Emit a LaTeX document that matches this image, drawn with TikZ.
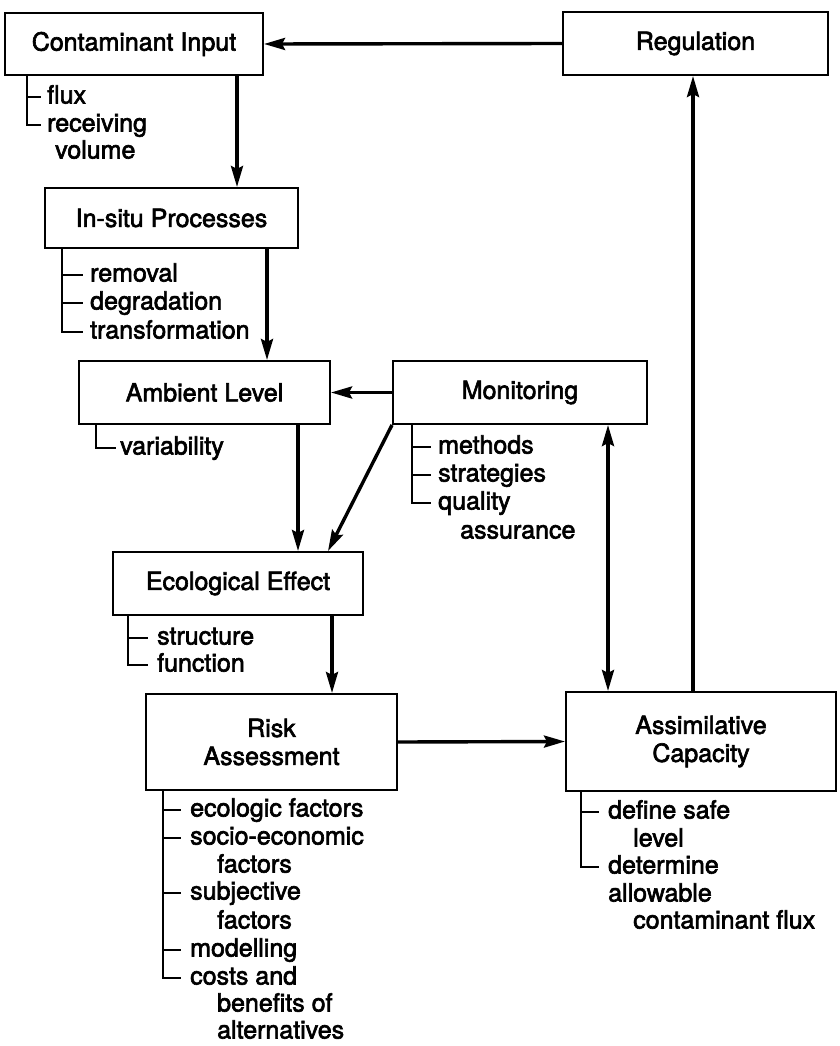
\documentclass[tikz,border=0pt]{standalone}
\usepackage{fontspec}
\newfontfamily\labelfont[FakeBold=2.5]{TeX Gyre Heros}
\usetikzlibrary{arrows.meta}
\begin{document}
\begin{tikzpicture}[x=1pt,y=-1pt,
  every node/.style={font=\labelfont\fontsize{25}{28}\selectfont},
  box/.style={draw,line width=2pt,rectangle,align=center,inner sep=0pt},
  arr/.style={line width=3.4pt,-{Stealth[length=21pt,width=12pt,inset=3pt]}},
  darr/.style={line width=3.4pt,{Stealth[length=21pt,width=12pt,inset=3pt]}-{Stealth[length=21pt,width=12pt,inset=3pt]}},
  item/.style={anchor=west,inner sep=0pt,text height=18pt,text depth=5pt},
  brk/.style={line width=2.4pt}]
\useasboundingbox (0,0) rectangle (839,1046);

% boxes
\node[box,minimum width=258pt,minimum height=62pt] (cin) at (134,44) {Contaminant Input};
\node[box,minimum width=265pt,minimum height=63pt] (reg) at (695.5,43.5) {Regulation};
\node[box,minimum width=253pt,minimum height=60pt] (ins) at (171.5,218) {In-situ Processes};
\node[box,minimum width=251pt,minimum height=63pt] (amb) at (204.5,392.5) {Ambient Level};
\node[box,minimum width=254pt,minimum height=63pt] (mon) at (520,392.5) {Monitoring};
\node[box,minimum width=250pt,minimum height=63pt] (eco) at (238,583.5) {Ecological Effect};
\node[box,minimum width=251pt,minimum height=96pt] (risk) at (271.5,742) {Risk\\Assessment};
\node[box,minimum width=270pt,minimum height=99pt] (asm) at (701,741.5) {Assimilative\\Capacity};

% connectors
\draw[arr] (reg.west) -- (cin.east);
\draw[arr] ([xshift=103pt]cin.south) -- ([xshift=65.5pt]ins.north);
\draw[arr] ([xshift=95.5pt]ins.south) -- ([xshift=62.5pt]amb.north);
\draw[arr] (mon.west) -- (amb.east);
\draw[arr] ([xshift=93.5pt]amb.south) -- ([xshift=60pt]eco.north);
\draw[arr] (mon.south west) -- ([xshift=90pt]eco.north);
\draw[arr] ([xshift=94pt]eco.south) -- ([xshift=60.5pt]risk.north);
\draw[arr] (risk.east) -- (asm.west);
\draw[darr] ([xshift=88pt]mon.south) -- ([xshift=-93pt]asm.north);
\draw[arr] ([xshift=-8pt]asm.north) -- ([xshift=-2.5pt]reg.south);

% Contaminant Input items
\node[item] (cin1) at (47,97) {flux};
\node[item] (cin2) at (47,125) {receiving};
\node[item] (cin2b) at (55,152) {volume};
\coordinate (cinB) at ([xshift=23pt]cin.south west);
\draw[brk] (cinB) |- ([xshift=-6pt]cin2.west);
\draw[brk] (cin1.west -| cinB) -- ([xshift=-6pt]cin1.west);

% In-situ Processes items
\node[item] (ins1) at (90,275) {removal};
\node[item] (ins2) at (90,303) {degradation};
\node[item] (ins3) at (90,332) {transformation};
\coordinate (insB) at ([xshift=18pt]ins.south west);
\draw[brk] (insB) |- ([xshift=-7pt]ins3.west);
\draw[brk] (ins1.west -| insB) -- ([xshift=-7pt]ins1.west);
\draw[brk] (ins2.west -| insB) -- ([xshift=-7pt]ins2.west);

% Ambient Level items
\node[item] (amb1) at (120,448) {variability};
\coordinate (ambB) at ([xshift=18pt]amb.south west);
\draw[brk] (ambB) |- ([xshift=-4pt]amb1.west);

% Monitoring items
\node[item] (mon1) at (438,447) {methods};
\node[item] (mon2) at (438,475) {strategies};
\node[item] (mon3) at (438,503) {quality};
\node[item] (mon3b) at (460,532) {assurance};
\coordinate (monB) at ([xshift=20pt]mon.south west);
\draw[brk] (monB) |- ([xshift=-7pt]mon3.west);
\draw[brk] (mon1.west -| monB) -- ([xshift=-7pt]mon1.west);
\draw[brk] (mon2.west -| monB) -- ([xshift=-7pt]mon2.west);

% Ecological Effect items
\node[item] (eco1) at (157,638) {structure};
\node[item] (eco2) at (157,665) {function};
\coordinate (ecoB) at ([xshift=16pt]eco.south west);
\draw[brk] (ecoB) |- ([xshift=-9pt]eco2.west);
\draw[brk] (eco1.west -| ecoB) -- ([xshift=-9pt]eco1.west);

% Risk Assessment items
\node[item] (risk1) at (190,810) {ecologic factors};
\node[item] (risk2) at (190,838) {socio-economic};
\node[item] (risk2b) at (217,866) {factors};
\node[item] (risk3) at (190,893) {subjective};
\node[item] (risk3b) at (217,922) {factors};
\node[item] (risk4) at (190,950) {modelling};
\node[item] (risk5) at (190,978) {costs and};
\node[item] (risk5b) at (217,1005) {benefits of};
\node[item] (risk5c) at (217,1032) {alternatives};
\coordinate (riskB) at ([xshift=18pt]risk.south west);
\draw[brk] (riskB) |- ([xshift=-9pt]risk5.west);
\draw[brk] (risk1.west -| riskB) -- ([xshift=-9pt]risk1.west);
\draw[brk] (risk2.west -| riskB) -- ([xshift=-9pt]risk2.west);
\draw[brk] (risk3.west -| riskB) -- ([xshift=-9pt]risk3.west);
\draw[brk] (risk4.west -| riskB) -- ([xshift=-9pt]risk4.west);

% Assimilative Capacity items
\node[item] (asm1) at (608,812) {define safe};
\node[item] (asm1b) at (633,840) {level};
\node[item] (asm2) at (608,867) {determine};
\node[item] (asm2b) at (608,895) {allowable};
\node[item] (asm2c) at (633,922) {contaminant flux};
\coordinate (asmB) at ([xshift=16pt]asm.south west);
\draw[brk] (asmB) |- ([xshift=-9pt]asm2.west);
\draw[brk] (asm1.west -| asmB) -- ([xshift=-9pt]asm1.west);
\end{tikzpicture}
\end{document}
